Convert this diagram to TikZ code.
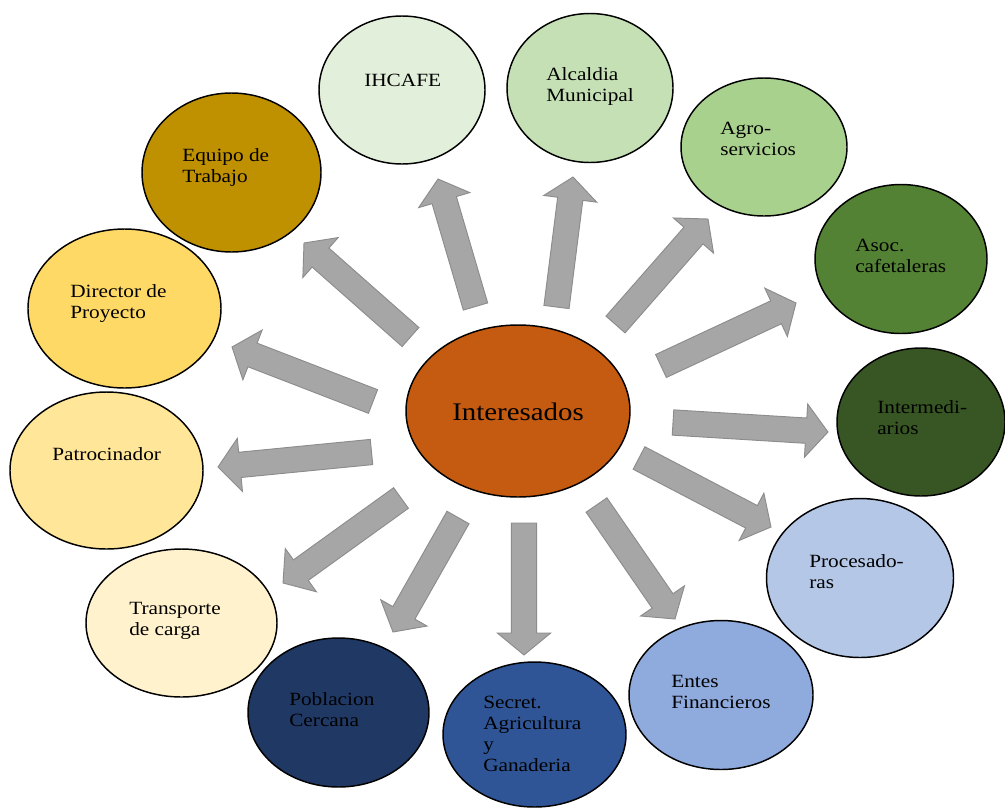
\documentclass[tikz,border=0pt]{standalone}
\usepackage{fontspec}
\setmainfont[FakeStretch=1.14]{Liberation Serif}
\usetikzlibrary{calc,shapes.geometric}

\definecolor{cCenter}{HTML}{C55A11}
\definecolor{cIhcafe}{HTML}{E2EFDA}
\definecolor{cAlcaldia}{HTML}{C5E0B4}
\definecolor{cAgro}{HTML}{A9D18E}
\definecolor{cAsoc}{HTML}{548235}
\definecolor{cInter}{HTML}{375623}
\definecolor{cProc}{HTML}{B4C7E7}
\definecolor{cEntes}{HTML}{8FAADC}
\definecolor{cSecret}{HTML}{2F5597}
\definecolor{cPobl}{HTML}{1F3864}
\definecolor{cTransp}{HTML}{FFF2CC}
\definecolor{cPatro}{HTML}{FFE699}
\definecolor{cDirector}{HTML}{FFD966}
\definecolor{cEquipo}{HTML}{BF9000}
\definecolor{arrowfill}{HTML}{A6A6A6}
\definecolor{arrowline}{HTML}{8C8C8C}

\tikzset{
  % #1 fill, #2 width and #3 height in px (1px = 0.75pt)
  bubble/.style n args={3}{ellipse, draw=black, line width=1.1pt, fill=#1,
    inner sep=0pt, minimum width=#2*0.75pt, minimum height=#3*0.75pt},
  % anchored at the baseline of the last line
  lbl/.style={anchor=base west, inner sep=0pt, align=left,
    font=\fontsize{14}{15.75}\selectfont, text=black},
  blockarrow/.style={fill=arrowfill, draw=arrowline, line width=0.7pt, line join=miter},
}

% block arrow: #1 name, #2 tail coordinate, #3 tip coordinate
\newcommand\blockarrow[3]{%
  \coordinate (#1-h) at ($(#3)!16.5pt!(#2)$);
  \draw[blockarrow]
    ($(#2)!9.5pt!90:(#3)$) -- ($(#1-h)!9.5pt!90:(#3)$) -- ($(#1-h)!20pt!90:(#3)$)
    -- (#3) -- ($(#1-h)!20pt!-90:(#3)$) -- ($(#1-h)!9.5pt!-90:(#3)$)
    -- ($(#2)!9.5pt!-90:(#3)$) -- cycle;
}

\begin{document}
\begin{tikzpicture}[x=0.75pt, y=-0.75pt]
\useasboundingbox (0,0) rectangle (1005,807);

% stakeholder bubbles
\node[bubble={cCenter}{224}{172}]   (center)   at (518,411) {};
\node[bubble={cIhcafe}{166}{148}]   (ihcafe)   at (402,90) {};
\node[bubble={cAlcaldia}{166}{149}] (alcaldia) at (590,88) {};
\node[bubble={cAgro}{166}{138}]     (agro)     at (764,147) {};
\node[bubble={cAsoc}{172}{149}]     (asoc)     at (901,259) {};
\node[bubble={cInter}{168}{148}]    (inter)    at (921,422) {};
\node[bubble={cProc}{187}{159}]     (proc)     at (860,578) {};
\node[bubble={cEntes}{184}{149}]    (entes)    at (721,695) {};
\node[bubble={cSecret}{183}{145}]   (secret)   at (534.5,734.5) {};
\node[bubble={cPobl}{181}{149}]     (pobl)     at (338.5,712.5) {};
\node[bubble={cTransp}{191}{148}]   (transp)   at (181.5,623) {};
\node[bubble={cPatro}{193}{157}]    (patro)    at (106.5,470.5) {};
\node[bubble={cDirector}{193}{159}] (director) at (124.5,308.5) {};
\node[bubble={cEquipo}{179}{159}]   (equipo)   at (231.5,172.5) {};

% labels
\node[lbl, font=\fontsize{19}{21}\selectfont] (center-t) at (452,420) {Interesados};
\node[lbl] (ihcafe-t)   at (364,86)  {IHCAFE};
\node[lbl] (alcaldia-t) at (546,101) {Alcaldia\\Municipal};
\node[lbl] (agro-t)     at (720,155) {Agro-\\servicios};
\node[lbl] (asoc-t)     at (855,272) {Asoc.\\cafetaleras};
\node[lbl] (inter-t)    at (877,434) {Intermedi-\\arios};
\node[lbl] (proc-t)     at (809,588) {Procesado-\\ras};
\node[lbl] (entes-t)    at (671,708) {Entes\\Financieros};
\node[lbl] (secret-t)   at (483,771) {Secret.\\Agricultura\\y\\Ganaderia};
\node[lbl] (pobl-t)     at (289,726) {Poblacion\\Cercana};
\node[lbl] (transp-t)   at (129,635) {Transporte\\de carga};
\node[lbl] (patro-t)    at (52,460)  {Patrocinador};
\node[lbl] (director-t) at (70,318)  {Director de\\Proyecto};
\node[lbl] (equipo-t)   at (182,182) {Equipo de\\Trabajo};

% arrow tails and tips
\coordinate (a1)  at (475.5,306.5); \coordinate (b1)  at (438,179);
\coordinate (a2)  at (556.5,307);   \coordinate (b2)  at (573,177);
\coordinate (a3)  at (615.5,324.5); \coordinate (b3)  at (708,219);
\coordinate (a4)  at (661,366);     \coordinate (b4)  at (796,303);
\coordinate (a5)  at (673,422.5);   \coordinate (b5)  at (828,432);
\coordinate (a6)  at (639,458);     \coordinate (b6)  at (771,527);
\coordinate (a7)  at (596.5,505);   \coordinate (b7)  at (675,619);
\coordinate (a8)  at (524,523);     \coordinate (b8)  at (524,655);
\coordinate (a9)  at (458,517.5);   \coordinate (b9)  at (393,632);
\coordinate (a10) at (401,498);     \coordinate (b10) at (283,583);
\coordinate (a11) at (371.5,452);   \coordinate (b11) at (218,467);
\coordinate (a12) at (373,401.5);   \coordinate (b12) at (232,347);
\coordinate (a13) at (410.5,337);   \coordinate (b13) at (304,243);

\foreach \i in {1,...,13}{\blockarrow{arr\i}{a\i}{b\i}}
\end{tikzpicture}
\end{document}
